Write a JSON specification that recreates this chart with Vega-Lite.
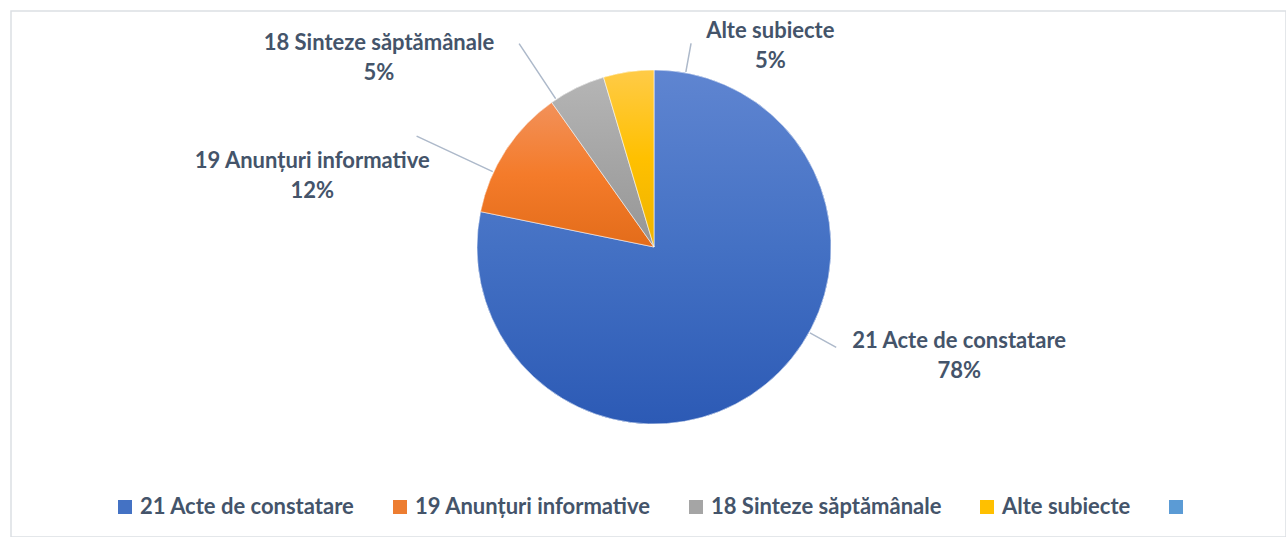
{
  "$schema": "https://vega.github.io/schema/vega-lite/v6.json",
  "width": 1275,
  "height": 526,
  "autosize": {"type": "none"},
  "padding": {"left": 11, "top": 11, "right": 0, "bottom": 0},
  "background": "white",
  "view": {"stroke": "#dcdfe4", "strokeWidth": 1.5},
  "config": {"view": {"stroke": "#dcdfe4", "strokeWidth": 1.5}},
  "data": {"values": [
    {"cat": "21 Acte de constatare", "share": 0.782, "order": 1},
    {"cat": "19 Anunțuri informative", "share": 0.12, "order": 2},
    {"cat": "18 Sinteze săptămânale", "share": 0.052, "order": 3},
    {"cat": "Alte subiecte", "share": 0.046, "order": 4}
  ]},
  "transform": [{"stack": "share", "groupby": [], "sort": [{"field": "order", "order": "ascending"}], "as": ["s0", "s1"]}],
  "layer": [
    {
      "mark": {"type": "arc", "radius": 177, "xOffset": 5.5, "yOffset": -27},
      "encoding": {
        "theta": {"field": "s0", "type": "quantitative", "scale": {"domain": [0, 1]}, "stack": null},
        "theta2": {"field": "s1"},
        "color": {
          "field": "cat", "type": "nominal",
          "scale": {"domain": ["21 Acte de constatare", "19 Anunțuri informative", "18 Sinteze săptămânale", "Alte subiecte", ""],
                    "range": ["#4472c4", "#ed7d31", "#a5a5a5", "#ffc000", "#5b9bd5"]},
          "legend": {
            "title": null, "orient": "none", "direction": "horizontal",
            "legendX": 103, "legendY": 485,
            "symbolType": "square", "symbolSize": 196, "symbolStrokeWidth": 0,
            "labelFont": "Lato", "labelFontSize": 22, "labelFontWeight": "bold", "labelColor": "#44546a",
            "labelLimit": 400, "labelOffset": 4, "columnPadding": 34
          }
        }
      }
    },
    {
      "mark": {"type": "arc", "radius": 177, "xOffset": 5.5, "yOffset": -27, "stroke": "#ffffff", "strokeWidth": 0.8, "strokeOpacity": 0.7},
      "encoding": {
        "theta": {"field": "s0", "type": "quantitative", "scale": {"domain": [0, 1]}, "stack": null},
        "theta2": {"field": "s1"},
        "fill": {
          "condition": [
            {"test": "datum.cat === '21 Acte de constatare'", "value": {"gradient": "linear", "x1": 0, "y1": 0, "x2": 0, "y2": 1, "stops": [{"offset": 0, "color": "#5f85d1"}, {"offset": 0.5, "color": "#4471c4"}, {"offset": 1, "color": "#2c5ab5"}]}},
            {"test": "datum.cat === '19 Anunțuri informative'", "value": {"gradient": "linear", "x1": 0, "y1": 0, "x2": 0, "y2": 1, "stops": [{"offset": 0, "color": "#f2915a"}, {"offset": 0.5, "color": "#f47b2a"}, {"offset": 1, "color": "#e36c1a"}]}},
            {"test": "datum.cat === '18 Sinteze săptămânale'", "value": {"gradient": "linear", "x1": 0, "y1": 0, "x2": 0, "y2": 1, "stops": [{"offset": 0, "color": "#b5b5b5"}, {"offset": 0.5, "color": "#a5a5a5"}, {"offset": 1, "color": "#969696"}]}}
          ],
          "value": {"gradient": "linear", "x1": 0, "y1": 0, "x2": 0, "y2": 1, "stops": [{"offset": 0, "color": "#ffcb47"}, {"offset": 0.5, "color": "#ffc000"}, {"offset": 1, "color": "#edb300"}]}
        }
      }
    },
    {
      "transform": [{"filter": "datum.cat === '21 Acte de constatare'"}],
      "layer": [
        {"mark": {"type": "arc", "radius": 178, "radius2": 208, "thetaOffset": 2.074, "theta2Offset": 2.074, "xOffset": 5.5, "yOffset": -27, "fill": null, "stroke": "#adb9ca", "strokeWidth": 1.5},
         "encoding": {"theta": {"field": "s0", "type": "quantitative", "scale": {"domain": [0, 1]}, "stack": null}, "theta2": {"field": "s0"}}},
        {"mark": {"type": "text", "radius": 324, "thetaOffset": 1.913, "xOffset": 5.5, "yOffset": -27, "dy": -15, "align": "center", "baseline": "middle", "font": "Lato", "fontSize": 22, "fontWeight": "bold", "fill": "#44546a"},
         "encoding": {"theta": {"field": "s0", "type": "quantitative", "scale": {"domain": [0, 1]}, "stack": null}, "text": {"field": "cat"}}},
        {"mark": {"type": "text", "radius": 324, "thetaOffset": 1.913, "xOffset": 5.5, "yOffset": -27, "dy": 15, "align": "center", "baseline": "middle", "font": "Lato", "fontSize": 22, "fontWeight": "bold", "fill": "#44546a"},
         "encoding": {"theta": {"field": "s0", "type": "quantitative", "scale": {"domain": [0, 1]}, "stack": null}, "text": {"field": "share", "format": ".0%"}}}
      ]
    },
    {
      "transform": [{"filter": "datum.cat === '19 Anunțuri informative'"}],
      "layer": [
        {"mark": {"type": "arc", "radius": 178, "radius2": 262, "thetaOffset": 0.236, "theta2Offset": 0.236, "xOffset": 5.5, "yOffset": -27, "fill": null, "stroke": "#adb9ca", "strokeWidth": 1.5},
         "encoding": {"theta": {"field": "s0", "type": "quantitative", "scale": {"domain": [0, 1]}, "stack": null}, "theta2": {"field": "s0"}}},
        {"mark": {"type": "text", "radius": 349, "thetaOffset": 0.0035, "xOffset": 5.5, "yOffset": -27, "dy": -15, "align": "center", "baseline": "middle", "font": "Lato", "fontSize": 22, "fontWeight": "bold", "fill": "#44546a"},
         "encoding": {"theta": {"field": "s0", "type": "quantitative", "scale": {"domain": [0, 1]}, "stack": null}, "text": {"field": "cat"}}},
        {"mark": {"type": "text", "radius": 349, "thetaOffset": 0.0035, "xOffset": 5.5, "yOffset": -27, "dy": 15, "align": "center", "baseline": "middle", "font": "Lato", "fontSize": 22, "fontWeight": "bold", "fill": "#44546a"},
         "encoding": {"theta": {"field": "s0", "type": "quantitative", "scale": {"domain": [0, 1]}, "stack": null}, "text": {"field": "share", "format": ".0%"}}}
      ]
    },
    {
      "transform": [{"filter": "datum.cat === '18 Sinteze săptămânale'"}],
      "layer": [
        {"mark": {"type": "arc", "radius": 178, "radius2": 244, "thetaOffset": 0.03, "theta2Offset": 0.03, "xOffset": 5.5, "yOffset": -27, "fill": null, "stroke": "#adb9ca", "strokeWidth": 1.5},
         "encoding": {"theta": {"field": "s0", "type": "quantitative", "scale": {"domain": [0, 1]}, "stack": null}, "theta2": {"field": "s0"}}},
        {"mark": {"type": "text", "radius": 334, "thetaOffset": -0.352, "xOffset": 5.5, "yOffset": -27, "dy": -15, "align": "center", "baseline": "middle", "font": "Lato", "fontSize": 22, "fontWeight": "bold", "fill": "#44546a"},
         "encoding": {"theta": {"field": "s0", "type": "quantitative", "scale": {"domain": [0, 1]}, "stack": null}, "text": {"field": "cat"}}},
        {"mark": {"type": "text", "radius": 334, "thetaOffset": -0.352, "xOffset": 5.5, "yOffset": -27, "dy": 15, "align": "center", "baseline": "middle", "font": "Lato", "fontSize": 22, "fontWeight": "bold", "fill": "#44546a"},
         "encoding": {"theta": {"field": "s0", "type": "quantitative", "scale": {"domain": [0, 1]}, "stack": null}, "text": {"field": "share", "format": ".0%"}}}
      ]
    },
    {
      "transform": [{"filter": "datum.cat === 'Alte subiecte'"}],
      "layer": [
        {"mark": {"type": "arc", "radius": 178, "radius2": 207, "thetaOffset": 0.469, "theta2Offset": 0.469, "xOffset": 5.5, "yOffset": -27, "fill": null, "stroke": "#adb9ca", "strokeWidth": 1.5},
         "encoding": {"theta": {"field": "s0", "type": "quantitative", "scale": {"domain": [0, 1]}, "stack": null}, "theta2": {"field": "s0"}}},
        {"mark": {"type": "text", "radius": 232, "thetaOffset": 0.814, "xOffset": 5.5, "yOffset": -27, "dy": -15, "align": "center", "baseline": "middle", "font": "Lato", "fontSize": 22, "fontWeight": "bold", "fill": "#44546a"},
         "encoding": {"theta": {"field": "s0", "type": "quantitative", "scale": {"domain": [0, 1]}, "stack": null}, "text": {"field": "cat"}}},
        {"mark": {"type": "text", "radius": 232, "thetaOffset": 0.814, "xOffset": 5.5, "yOffset": -27, "dy": 15, "align": "center", "baseline": "middle", "font": "Lato", "fontSize": 22, "fontWeight": "bold", "fill": "#44546a"},
         "encoding": {"theta": {"field": "s0", "type": "quantitative", "scale": {"domain": [0, 1]}, "stack": null}, "text": {"field": "share", "format": ".0%"}}}
      ]
    }
  ]
}
